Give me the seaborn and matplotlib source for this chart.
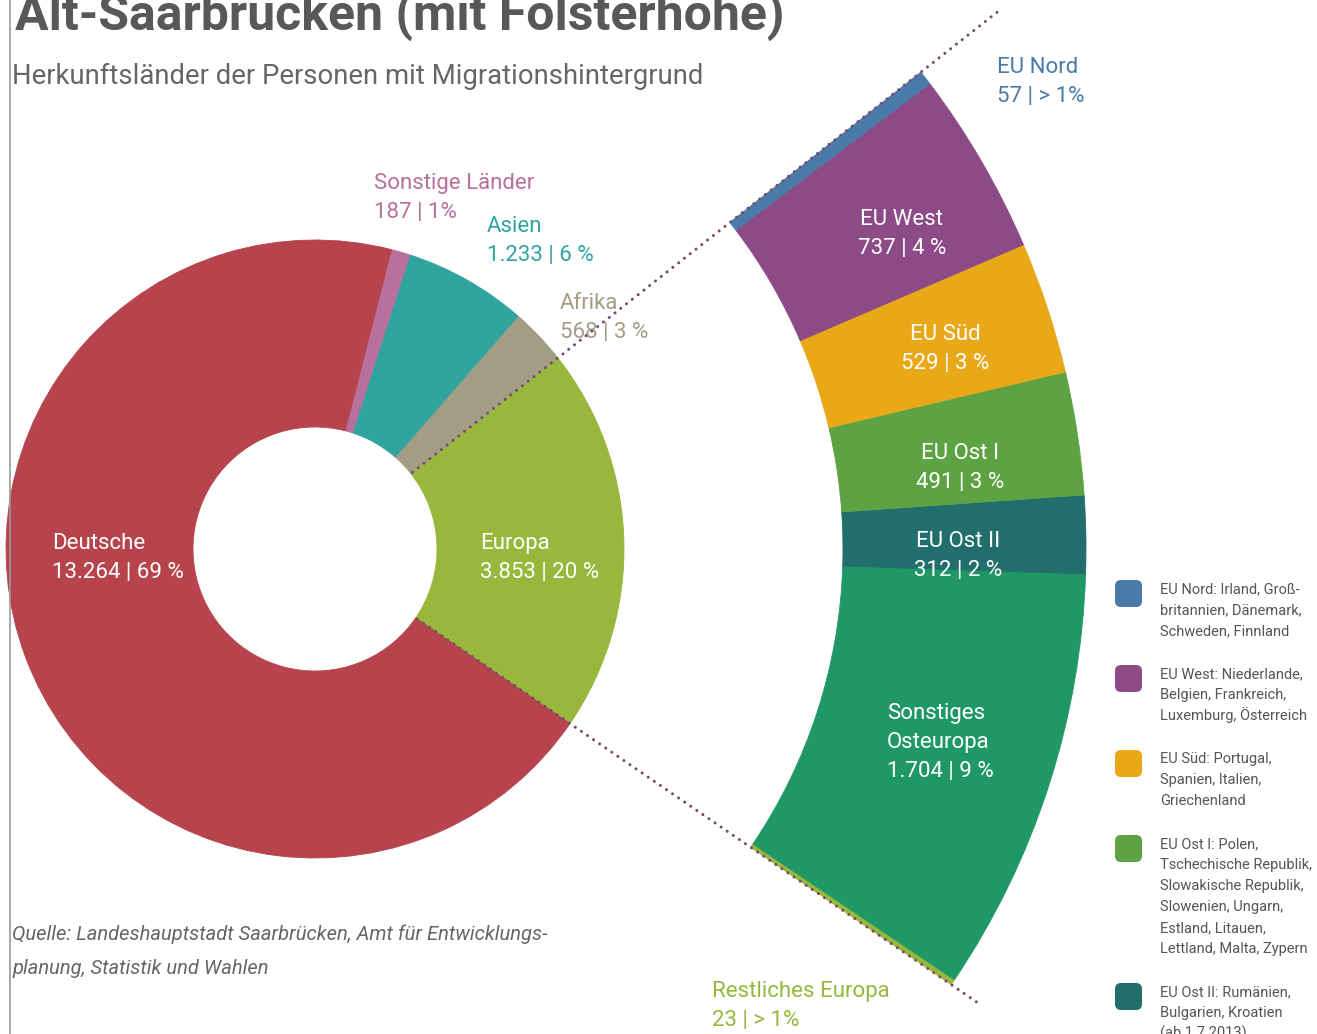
import matplotlib
matplotlib.use("Agg")
import matplotlib.pyplot as plt
from matplotlib import font_manager
from matplotlib.patches import FancyBboxPatch
import numpy as np
import seaborn as sns

W, H = 1317, 1034

# Innerer Ring: Herkunft (gegen den Uhrzeigersinn ab Europa)
regions = ["Europa", "Afrika", "Asien", "Sonstige Länder", "Deutsche"]
region_counts = [3853, 568, 1233, 187, 13264]
region_shares = ["20 %", "3 %", "6 %", "1%", "69 %"]
region_colors = ["#97b83d", "#a39d85", "#31a49f", "#b8709d", "#b7444d"]

# Äußerer Ring: Aufschlüsselung Europa (von unten nach oben)
europe_parts = ["Restliches Europa", "Sonstiges Osteuropa", "EU Ost II", "EU Ost I",
                "EU Süd", "EU West", "EU Nord"]
europe_counts = [23, 1704, 312, 491, 529, 737, 57]
europe_shares = ["> 1%", "9 %", "2 %", "3 %", "3 %", "4 %", "> 1%"]
europe_colors = ["#97b83d", "#1f9866", "#216e6d", "#5ea343", "#e9a817", "#8c4a87", "#4a7aa8"]

legend_parts = ["EU Nord", "EU West", "EU Süd", "EU Ost I", "EU Ost II"]
legend_lines = [
    ["EU Nord: Irland, Groß-", "britannien, Dänemark,", "Schweden, Finnland"],
    ["EU West: Niederlande,", "Belgien, Frankreich,", "Luxemburg, Österreich"],
    ["EU Süd: Portugal,", "Spanien, Italien,", "Griechenland"],
    ["EU Ost I: Polen,", "Tschechische Republik,", "Slowakische Republik,",
     "Slowenien, Ungarn,", "Estland, Litauen,", "Lettland, Malta, Zypern"],
    ["EU Ost II: Rumänien,", "Bulgarien, Kroatien", "(ab 1.7.2013)"],
]

sns.set_theme(style="white")
names = {f.name for f in font_manager.fontManager.ttflist}
FONT = "Liberation Sans Narrow" if "Liberation Sans Narrow" in names else "Roboto"
plt.rcParams["font.family"] = [FONT, "DejaVu Sans"]

CX, CY = 315, 549
R_IN, W_IN = 309, 187
R_OUT, W_OUT = 771, 243
START = 34.4  # y-Achse ist umgedreht, daher im Datenraum gespiegelt

fig = plt.figure(figsize=(W / 100, H / 100), dpi=100)
ax = fig.add_axes([0, 0, 1, 1])

wedges, _ = ax.pie(region_counts, colors=region_colors, radius=R_IN, center=(CX, CY),
                   startangle=START, counterclock=False, frame=True,
                   wedgeprops=dict(width=W_IN, linewidth=0.6))
for w in wedges:
    w.set_edgecolor(w.get_facecolor())

rest = sum(region_counts) - sum(europe_counts)
outer, _ = ax.pie(europe_counts + [rest], colors=europe_colors + ["none"], radius=R_OUT,
                  center=(CX, CY), startangle=START, counterclock=False, frame=True,
                  wedgeprops=dict(width=W_OUT, linewidth=0.6))
for w in outer[:-1]:
    w.set_edgecolor(w.get_facecolor())
outer[-1].set_visible(False)

# gepunktete Verbindungslinien entlang der Europa-Grenzen
eu = wedges[0]
for ang, r_end in [(eu.theta1, 868), (eu.theta2, 805)]:
    t = np.deg2rad(ang)
    r = np.array([R_IN - W_IN + 2, r_end])
    ax.plot(CX + r * np.cos(t), CY + r * np.sin(t), color="#7a4a6c", lw=2.2,
            linestyle=(0, (0.01, 2.4)), dash_capstyle="round", zorder=5)

ax.set_xlim(0, W)
ax.set_ylim(H, 0)
ax.set_aspect("equal")
ax.axis("off")
ax.axvline(10, color="#9a9a9a", lw=1.2)


def fmt(v):
    return f"{v:,}".replace(",", ".")


def put(x, y0, lines, dy, **kw):
    for i, s in enumerate(lines):
        ax.text(x, y0 + i * dy, s, va="baseline", **kw)


LBL = 16
region_pos = {
    "Deutsche": (52, 549, "left", "white"),
    "Europa": (480, 549, "left", "white"),
    "Sonstige Länder": (374, 189, "left", None),
    "Asien": (487, 232, "left", None),
    "Afrika": (560, 309, "left", None),
}
for name, v, sh, col in zip(regions, region_counts, region_shares, region_colors):
    x, y, ha, tc = region_pos[name]
    put(x, y, [name, f"{fmt(v)} | {sh}"], 29, ha=ha, color=tc or col, fontsize=LBL)

part_pos = {
    "Restliches Europa": (712, 997, "left", None),
    "Sonstiges Osteuropa": (887, 719, "left", "white"),
    "EU Ost II": (958, 547, "center", "white"),
    "EU Ost I": (960, 459, "center", "white"),
    "EU Süd": (945, 340, "center", "white"),
    "EU West": (902, 225, "center", "white"),
    "EU Nord": (997, 73, "left", None),
}
for name, v, sh, col in zip(europe_parts, europe_counts, europe_shares, europe_colors):
    x, y, ha, tc = part_pos[name]
    lines = name.split(" ", 1) if name == "Sonstiges Osteuropa" else [name]
    put(x, y, lines + [f"{fmt(v)} | {sh}"], 29, ha=ha, color=tc or col, fontsize=LBL)

# Legende
top = 580
for name, lines in zip(legend_parts, legend_lines):
    col = europe_colors[europe_parts.index(name)]
    ax.add_patch(FancyBboxPatch((1119, top + 4), 19, 19, boxstyle="round,pad=4,rounding_size=6",
                                facecolor=col, edgecolor="none"))
    put(1160, top + 13, lines, 21, ha="left", color="#555555", fontsize=10.5)
    top += len(lines) * 21 + 22

ax.text(15, 30, "Alt-Saarbrücken (mit Folsterhöhe)", fontsize=36, fontweight="bold",
        color="#58585a", va="baseline", ha="left")
ax.text(12, 84, "Herkunftsländer der Personen mit Migrationshintergrund", fontsize=19.8,
        color="#666666", va="baseline", ha="left")
put(12, 940, ["Quelle: Landeshauptstadt Saarbrücken, Amt für Entwicklungs-",
              "planung, Statistik und Wahlen"], 34, ha="left", color="#666666",
    fontsize=14.5, style="italic")

fig.savefig("out.png", dpi=100)
